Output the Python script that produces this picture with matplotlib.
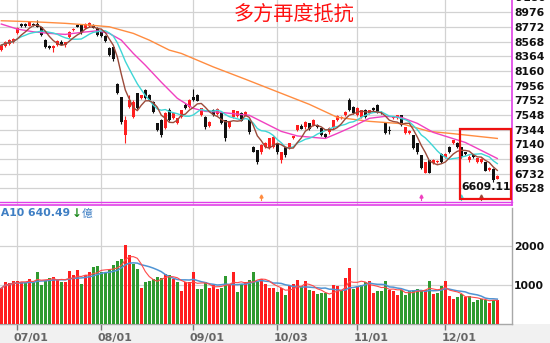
import numpy as np
import pandas as pd
import matplotlib
matplotlib.use("Agg")
import matplotlib.pyplot as plt
import matplotlib.transforms as mtransforms
from matplotlib.patches import Rectangle

# ---------------- data ----------------
opens = [8452, 8508, 8540, 8560, 8689, 8815, 8810, 8790, 8815, 8820,
         8770, 8591, 8508, 8480, 8520, 8570, 8520, 8633, 8730, 8800,
         8800, 8760, 8790, 8790, 8760, 8700, 8647, 8480, 8494, 7977,
         7795, 7264, 7655, 7516, 7851, 7781, 7893, 7823, 7725, 7432,
         7474, 7362, 7613, 7502, 7432, 7516, 7683, 7655, 7800, 7823,
         7544, 7516, 7400, 7613, 7560, 7572, 7474, 7380, 7516, 7530,
         7570, 7540, 7474, 7097, 7055, 7027, 7100, 7083, 7097, 7152,
         6915, 7097, 7083, 7222, 7334, 7400, 7376, 7432, 7404, 7410,
         7362, 7290, 7306, 7376, 7480, 7500, 7544, 7753, 7655, 7544,
         7516, 7613, 7572, 7641, 7683, 7590, 7432, 7340, 7500, 7500,
         7544, 7292, 7300, 7264, 7152, 6985, 6747, 6915, 6880, 6890,
         7010, 6960, 7097, 7152, 7160, 7097, 7027, 6915, 6985, 6887,
         6890, 6887, 6780, 6803, 6664]
highs = [8540, 8580, 8600, 8620, 8770, 8830, 8825, 8860, 8830, 8870,
         8775, 8600, 8520, 8530, 8590, 8590, 8570, 8715, 8755, 8820,
         8810, 8825, 8850, 8810, 8770, 8720, 8660, 8490, 8500, 7990,
         7800, 7530, 7823, 7760, 7860, 7830, 7910, 7840, 7740, 7440,
         7490, 7590, 7640, 7590, 7510, 7625, 7720, 7770, 7907, 7840,
         7650, 7530, 7460, 7630, 7640, 7590, 7480, 7460, 7625, 7610,
         7590, 7600, 7490, 7110, 7060, 7140, 7170, 7235, 7250, 7160,
         7040, 7110, 7165, 7260, 7415, 7420, 7460, 7440, 7490, 7425,
         7370, 7300, 7375, 7485, 7545, 7530, 7600, 7780, 7670, 7655,
         7625, 7630, 7625, 7660, 7700, 7600, 7440, 7400, 7530, 7555,
         7555, 7385, 7340, 7275, 7160, 6995, 6900, 6925, 6930, 6920,
         7020, 7020, 7110, 7205, 7175, 7105, 7040, 6985, 6995, 6955,
         6950, 6895, 6825, 6815, 6715]
lows = [8440, 8500, 8530, 8550, 8680, 8780, 8775, 8785, 8790, 8770,
        8650, 8480, 8470, 8430, 8510, 8520, 8500, 8620, 8720, 8770,
        8680, 8750, 8780, 8760, 8650, 8640, 8560, 8370, 8300, 7840,
        7430, 7152, 7640, 7500, 7630, 7770, 7770, 7750, 7570, 7320,
        7240, 7350, 7460, 7490, 7420, 7500, 7630, 7640, 7740, 7740,
        7530, 7360, 7380, 7530, 7550, 7420, 7180, 7370, 7500, 7520,
        7460, 7530, 7290, 7030, 6860, 7010, 7090, 7070, 7090, 7010,
        6880, 6970, 7070, 7210, 7320, 7350, 7360, 7340, 7390, 7370,
        7250, 7230, 7290, 7360, 7470, 7490, 7530, 7600, 7560, 7530,
        7500, 7510, 7560, 7600, 7575, 7560, 7280, 7280, 7490, 7490,
        7390, 7280, 7290, 7070, 7010, 6800, 6740, 6735, 6870, 6880,
        6875, 6950, 7015, 7140, 7085, 6945, 6990, 6900, 6945, 6880,
        6880, 6765, 6770, 6609.11, 6655]
closes = [8522, 8564, 8591, 8605, 8759, 8790, 8785, 8843, 8800, 8780,
          8661, 8494, 8480, 8510, 8577, 8530, 8560, 8703, 8745, 8780,
          8690, 8815, 8830, 8765, 8661, 8650, 8577, 8382, 8326, 7851,
          7446, 7474, 7753, 7730, 7641, 7823, 7781, 7760, 7586, 7334,
          7264, 7572, 7474, 7572, 7502, 7613, 7641, 7753, 7760, 7750,
          7641, 7376, 7450, 7544, 7630, 7432, 7222, 7446, 7613, 7600,
          7470, 7590, 7306, 7040, 6887, 7125, 7160, 7222, 7236, 7027,
          7027, 6985, 7152, 7250, 7404, 7360, 7446, 7348, 7474, 7380,
          7264, 7240, 7362, 7474, 7530, 7520, 7586, 7613, 7572, 7641,
          7613, 7520, 7613, 7613, 7586, 7570, 7292, 7320, 7520, 7544,
          7404, 7376, 7320, 7083, 7027, 6817, 6887, 6747, 6915, 6910,
          6887, 7010, 7027, 7194, 7097, 6957, 7000, 6970, 6957, 6943,
          6940, 6775, 6817, 6650, 6705]
volume = [923, 1077, 1060, 1120, 1095, 1077, 1077, 1146, 1077, 1351,
          992, 1120, 1190, 1210, 1146, 1077, 1077, 1360, 1249, 1395,
          1036, 1249, 1351, 1462, 1497, 1351, 1309, 1395, 1523, 1633,
          1677, 2036, 1779, 1549, 1420, 933, 1077, 1120, 1164, 1206,
          1190, 1292, 1249, 1146, 1077, 846, 1077, 1077, 1351, 889,
          889, 1077, 933, 1010, 889, 923, 1231, 1010, 1333, 820,
          1036, 1077, 1138, 1333, 1077, 1164, 1036, 933, 933, 820,
          933, 736, 967, 1036, 1138, 967, 1095, 864, 846, 761,
          795, 795, 667, 1010, 974, 864, 1180, 1446, 908, 967,
          1010, 1077, 1120, 805, 846, 846, 1103, 864, 846, 736,
          864, 736, 846, 864, 908, 882, 864, 1095, 761, 805,
          967, 1120, 718, 633, 692, 770.3, 700.2, 708.6, 564, 626,
          641, 623.8, 537, 626, 608]

# 20- and 60-day averages as plotted
ma20_idx = [0, 4, 8, 12, 16, 20, 24, 27, 30, 33, 36, 40, 42, 44, 48, 51, 54, 58,
            62, 66, 70, 74, 78, 81, 84, 88, 92, 96, 100, 104, 108, 112, 116, 120, 124]
ma20_val = [8815, 8745, 8707, 8685, 8671, 8699, 8721, 8685, 8591, 8406, 8242, 8005,
            7893, 7781, 7641, 7599, 7590, 7567, 7544, 7432, 7320, 7257, 7236, 7222,
            7292, 7390, 7502, 7530, 7516, 7432, 7306, 7236, 7166, 7055, 6943]
ma60_idx = [0, 8, 16, 22, 27, 33, 37, 42, 45, 53, 61, 69, 77, 84, 92, 100, 107, 113, 124]
ma60_val = [8861, 8847, 8825, 8801, 8777, 8685, 8591, 8452, 8406, 8218, 8047, 7872,
            7697, 7516, 7460, 7428, 7320, 7288, 7222]

date_tick_idx = [4, 25, 48, 69, 89, 111]
date_tick_labels = ["07/01", "08/01", "09/01", "10/03", "11/01", "12/01"]
price_ticks = [6528, 6732, 6936, 7140, 7344, 7548, 7752, 7956, 8160, 8364, 8568, 8772, 8976, 9180]
volume_ticks = [1000, 2000]
signal_idx = [65, 105, 115, 120]
title_text = "多方再度抵抗"

# ---------------- derived series ----------------
o = np.array(opens, float)
h = np.array(highs, float)
l = np.array(lows, float)
c = np.array(closes, float)
v = np.array(volume, float)
x = np.arange(len(c))
ma5 = pd.Series(c).rolling(5, min_periods=1).mean().values
ma10 = pd.Series(c).rolling(10, min_periods=1).mean().values
vma5 = pd.Series(v).rolling(5, min_periods=1).mean().values
vma10 = pd.Series(v).rolling(10, min_periods=1).mean().values

RED = "#ff1f1f"
BLACK = "#111111"
GREEN = "#2f9a2f"
C_MA5 = "#9b4a3a"
C_MA10 = "#3fd6d6"
C_MA20 = "#f040c0"
C_MA60 = "#ff8c40"
MAGENTA = "#e040e8"
GRID = "#d2d2d2"

W, H = 550, 343
fig = plt.figure(figsize=(W / 100, H / 100), dpi=100)
fig.patch.set_facecolor("white")


def px_axes(left, top, right, bottom):
    return fig.add_axes([left / W, 1 - bottom / H, (right - left) / W, (bottom - top) / H])


# light strip under the volume panel
fig.add_artist(Rectangle((0, 0), 1, 19 / H, transform=fig.transFigure,
                         facecolor="#f1f1f1", edgecolor="none", zorder=0))

ax = px_axes(0, 0, 511.5, 205)
axv = px_axes(0, 207.5, 511.5, 324)
xlim = (-0.33, 127.55)

# ---------------- price panel ----------------
ax.set_xlim(*xlim)
ax.set_ylim(6295, 9150)
ax.set_facecolor("white")
ax.set_yticks(price_ticks[:-1])
ax.yaxis.tick_right()
ax.tick_params(axis="y", length=0, pad=1.8, labelsize=7.8, labelcolor="#111111")
for t in ax.get_yticklabels():
    t.set_fontweight("bold")
ax.set_xticks(date_tick_idx)
ax.tick_params(axis="x", length=0, labelbottom=False)
ax.grid(True, color=GRID, lw=0.9)
ax.set_axisbelow(True)
for s in ("top", "left"):
    ax.spines[s].set_visible(False)
for s in ("right", "bottom"):
    ax.spines[s].set_color(MAGENTA)
    ax.spines[s].set_linewidth(1.2)
ax.plot([0, 1], [0.016, 0.016], transform=ax.transAxes, color=MAGENTA, lw=1.0, clip_on=False)
ax.text(1.0, 9180, " 9180", transform=mtransforms.blended_transform_factory(ax.transAxes, ax.transData),
        ha="left", va="center", fontsize=7.8, fontweight="bold", color="#111111", clip_on=False)

up = c >= o
body_lo = np.minimum(o, c)
body_h = np.maximum(np.abs(c - o), 12)
cols = np.where(up, RED, BLACK)
ax.vlines(x, l, h, colors=cols, lw=0.8, zorder=3)
ax.bar(x, body_h, bottom=body_lo, width=0.62, color=cols, linewidth=0, zorder=4)

ax.plot(ma60_idx, ma60_val, color=C_MA60, lw=1.0, zorder=5)
ax.plot(ma20_idx, ma20_val, color=C_MA20, lw=1.0, zorder=5)
ax.plot(x, ma10, color=C_MA10, lw=1.0, zorder=5)
ax.plot(x, ma5, color=C_MA5, lw=1.0, zorder=6)

sig_cols = [C_MA60, C_MA20, C_MA10, C_MA5]
btrans = mtransforms.blended_transform_factory(ax.transData, ax.transAxes)
for si, sc in zip(signal_idx, sig_cols):
    ax.plot([si, si], [0.022, 0.045], color=sc, lw=0.8, transform=btrans,
            clip_on=False, zorder=7)
    ax.plot([si], [0.045], marker="^", ms=2.2, color=sc, mec=sc, transform=btrans,
            clip_on=False, zorder=7)

fig.text(294 / W, 1 - 14.5 / H, title_text, color="#ff1010", fontsize=14.5,
         family=["Noto Sans CJK TC", "DejaVu Sans"], ha="center", va="center")

# highlighted recent area
fig.add_artist(Rectangle((459.5 / W, 1 - 199 / H), 51.5 / W, 70 / H, transform=fig.transFigure,
                         fill=False, edgecolor="#ee1111", lw=1.6, zorder=10))
recent_low = l[-12:].min()
fig.text(486.5 / W, 1 - 187 / H, f"{recent_low:.2f}", fontsize=7.8, fontweight="bold",
         color="#111111", ha="center", va="center", zorder=11)

# ---------------- volume panel ----------------
axv.set_xlim(*xlim)
axv.set_ylim(0, 3000)
axv.set_facecolor("white")
prev = np.r_[c[0], c[:-1]]
vcols = np.where(c >= prev, RED, GREEN)
axv.bar(x, v, width=0.6, color=vcols, linewidth=0, zorder=3)
axv.plot(x, vma10, color="#4f94d4", lw=1.1, zorder=5)
axv.plot(x, vma5, color="#ff4a4a", lw=0.8, zorder=6)

axv.set_yticks(volume_ticks)
axv.yaxis.tick_right()
axv.tick_params(axis="y", length=0, pad=1.8, labelsize=7.8, labelcolor="#111111")
for t in axv.get_yticklabels():
    t.set_fontweight("bold")
axv.set_xticks(date_tick_idx)
axv.set_xticklabels(date_tick_labels)
axv.tick_params(axis="x", direction="out", length=4, width=1.0, color="#777777",
                pad=2.5, labelsize=8, labelcolor="#666666")
offset = mtransforms.ScaledTranslation(-3.5 / 100, 0, fig.dpi_scale_trans)
for t in axv.get_xticklabels():
    t.set_fontweight("bold")
    t.set_ha("left")
    t.set_transform(t.get_transform() + offset)
axv.grid(True, color=GRID, lw=0.9)
axv.set_axisbelow(True)
for s in ("top", "left"):
    axv.spines[s].set_visible(False)
for s in ("right", "bottom"):
    axv.spines[s].set_color("#a8a8a8")
    axv.spines[s].set_linewidth(1.0)

trend = "↓" if vma10[-1] < vma10[-2] else "↑"
t1 = fig.text(-10 / W, 1 - 213.5 / H, f"MA10 {vma10[-1]:.2f}", fontsize=7.8, fontweight="bold",
              color="#3f7fc4", ha="left", va="center")
t2 = fig.text(0, 0, trend, fontsize=8.5, fontweight="bold", color="#1f8a1f",
              ha="left", va="center")
t3 = fig.text(0, 0, "億", fontsize=7.8, color="#3f7fc4",
              family=["Noto Sans CJK TC", "DejaVu Sans"], ha="left", va="center")
fig.canvas.draw()
r = fig.canvas.get_renderer()
bb1 = t1.get_window_extent(r)
t2.set_position(((bb1.x1 + 1.5) / W, 1 - 213.5 / H))
bb2 = t2.get_window_extent(r)
t3.set_position(((bb2.x1 + 0.5) / W, 1 - 213.5 / H))

fig.savefig("out.png", dpi=100, facecolor=fig.get_facecolor())
